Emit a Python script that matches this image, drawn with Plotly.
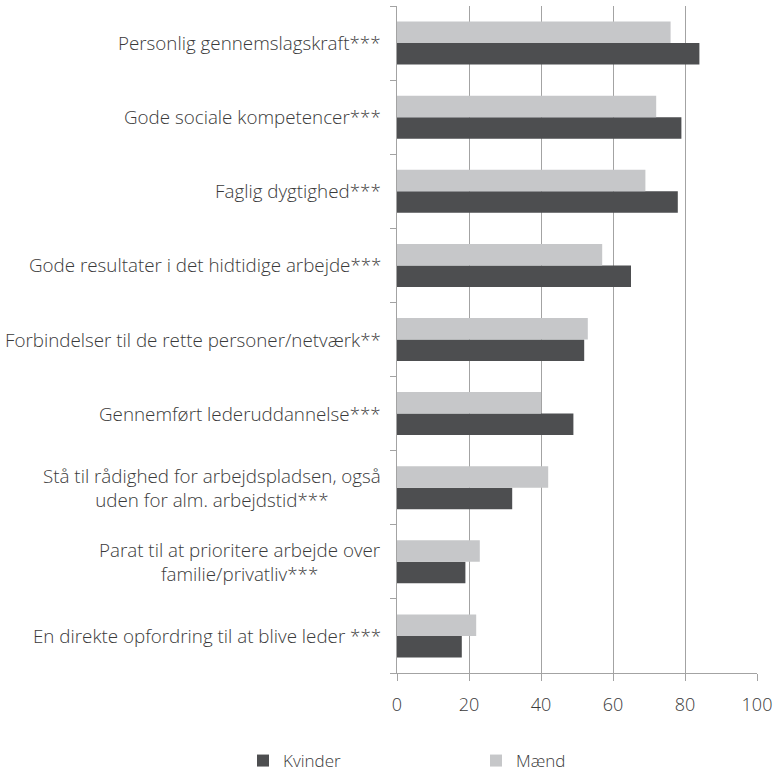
import plotly.graph_objects as go

categories = [
    "Personlig gennemslagskraft***",
    "Gode sociale kompetencer***",
    "Faglig dygtighed***",
    "Gode resultater i det hidtidige arbejde***",
    "Forbindelser til de rette personer/netværk**",
    "Gennemført lederuddannelse***",
    "Stå til rådighed for arbejdspladsen, også<br>uden for alm. arbejdstid***",
    "Parat til at prioritere arbejde over<br>familie/privatliv***",
    "En direkte opfordring til at blive leder ***",
]
kvinder = [84, 79, 78, 65, 52, 49, 32, 19, 18]
maend = [76, 72, 69, 57, 53, 40, 42, 23, 22]
x_ticks = [0, 20, 40, 60, 80, 100]

FONT = "Open Sans"
TXT = "#3a3a3a"
GRID = "#a3a3a3"

fig = go.Figure()
fig.add_trace(go.Bar(y=categories, x=kvinder, orientation="h", name="Kvinder",
                     marker=dict(color="#4d4e50", line=dict(width=0)),
                     legend="legend", showlegend=True))
fig.add_trace(go.Bar(y=categories, x=maend, orientation="h", name="Mænd",
                     marker=dict(color="#c6c7c9", line=dict(width=0)),
                     legend="legend2", showlegend=True))

for c in categories:
    fig.add_annotation(x=0, xref="paper", xanchor="right", xshift=-14,
                       y=c, yref="y", yanchor="middle", text=c, align="center",
                       showarrow=False,
                       font=dict(family=FONT, size=18.8, color=TXT, weight=300))

legend_common = dict(orientation="h", xref="container", yref="container",
                     y=0.0, yanchor="bottom", xanchor="left",
                     font=dict(family=FONT, size=17, color=TXT, weight=300),
                     bgcolor="rgba(0,0,0,0)")

fig.update_layout(
    width=778, height=779,
    showlegend=True,
    margin=dict(l=397, r=19, t=6, b=106),
    plot_bgcolor="white", paper_bgcolor="white",
    barmode="group", bargap=0.42, bargroupgap=0,
    font=dict(family=FONT, color=TXT),
    legend=dict(x=(257 - 14) / 778, **legend_common),
    legend2=dict(x=(490 - 14) / 778, **legend_common),
)
fig.update_xaxes(range=[0, 100], tickvals=x_ticks, showgrid=True, gridcolor=GRID,
                 gridwidth=1, zeroline=False, showline=True, linecolor=GRID,
                 ticks="outside", ticklen=7, tickcolor=GRID,
                 ticklabelstandoff=8,
                 tickfont=dict(family=FONT, size=18, color=TXT, weight=300))
fig.update_yaxes(categoryorder="array", categoryarray=list(reversed(categories)),
                 showticklabels=False, showline=True, linecolor=GRID,
                 ticks="outside", tickson="boundaries", ticklen=6, tickcolor=GRID,
                 showgrid=False)

fig.write_html("out.html")
